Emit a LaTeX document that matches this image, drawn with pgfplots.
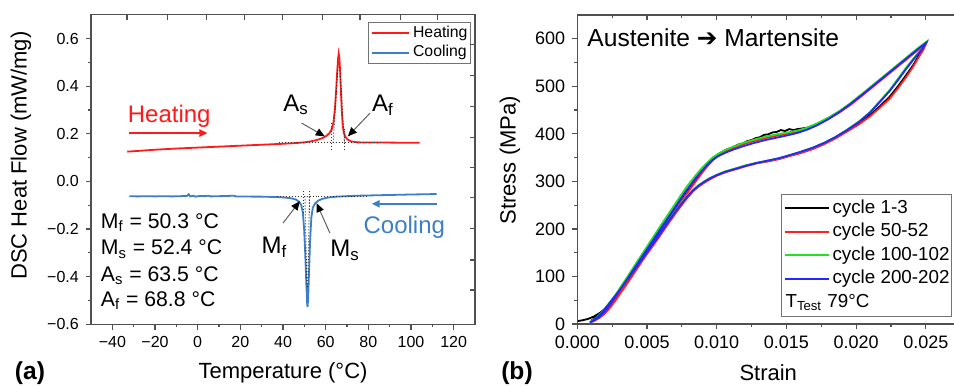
\documentclass[border=0pt]{standalone}
\usepackage{fontspec}
\setmainfont{Liberation Sans}
\newfontfamily\dejavu{DejaVu Sans}
\usepackage{pgfplots}
\pgfplotsset{compat=1.18}
\usetikzlibrary{arrows.meta}
\definecolor{heatred}{HTML}{FF1A1A}
\definecolor{coolblue}{HTML}{3D7FC6}
\definecolor{axgray}{HTML}{505050}
\definecolor{cgreen}{HTML}{22E022}
\definecolor{cblue}{HTML}{2626FF}
\definecolor{cred}{HTML}{FF2020}
\newcommand\fs[1]{\fontsize{#1bp}{#1bp}\selectfont}
\begin{document}
\begin{tikzpicture}
\useasboundingbox (0,0) rectangle (477bp,193.5bp);
\pgfplotsset{
  mystyle/.style={scale only axis, axis line style={axgray, line width=0.7bp},
    tick style={axgray, line width=0.6bp}, major tick length=2.6bp, minor tick length=1.5bp,
    /pgf/number format/assume math mode=true, scaled ticks=false},
}
% ---------------- panel (a) ----------------
\begin{axis}[mystyle, at={(45.5bp,31.35bp)}, anchor=south west, width=192bp, height=154.8bp,
  xmin=-50, xmax=130, ymin=-0.6, ymax=0.7,
  xtick={-40,-20,0,20,40,60,80,100,120},
  xticklabels={−40,−20,0,20,40,60,80,100,120},
  ytick={-0.6,-0.4,-0.2,0,0.2,0.4,0.6},
  yticklabels={−0.6,−0.4,−0.2,0.0,0.2,0.4,0.6},
  minor x tick num=1, minor y tick num=1, tick align=outside, xtick pos=left, ytick pos=left,
  ticklabel style={font=\fs{8}},
  xlabel={Temperature (°C)}, ylabel={DSC Heat Flow (mW/mg)},
  label style={font=\fs{11}},
  xlabel style={at={(rel axis cs:0.5,-0.1573)}, anchor=center},
  ylabel style={at={(rel axis cs:-0.1823,0.545)}, anchor=center},
  legend style={at={(rel axis cs:0.721,0.976)}, anchor=north west, draw=axgray!80,
    font=\fs{7.9}, inner xsep=1.5bp, inner ysep=1.5bp, row sep=2bp, column sep=1.6bp,
    nodes={inner sep=0pt, text height=6bp, text depth=1.7bp}},
  legend cell align=left,
]
\addlegendimage{legend image code/.code={\draw[heatred, line width=1bp] (0bp,0bp) -- (18.3bp,0bp);}}
\addlegendentry{Heating}
\addlegendimage{legend image code/.code={\draw[coolblue, line width=1bp] (0bp,0bp) -- (18.3bp,0bp);}}
\addlegendentry{Cooling}
\addplot[forget plot, color=heatred, line width=0.9bp] coordinates {
(-33,0.125) (-28,0.128) (-20,0.133) (-10,0.138) (0,0.142) (10,0.146) (20,0.150) (30,0.154)
(40,0.158) (46,0.161) (50,0.164) (53,0.168) (55,0.172) (57,0.177) (59,0.184) (60.5,0.192)
(61.8,0.203) (62.8,0.218) (63.6,0.245) (64.3,0.30) (64.9,0.38) (65.4,0.46) (65.8,0.515)
(66.1,0.537) (66.4,0.52) (66.8,0.46) (67.2,0.37) (67.6,0.29) (68.0,0.235) (68.5,0.205)
(69.2,0.188) (70.2,0.176) (72,0.168) (75,0.164) (80,0.163) (90,0.163) (100,0.162) (104,0.162)};
\addplot[forget plot, color=coolblue, line width=0.9bp] coordinates {
(-32,-0.062) (-28,-0.063) (-24,-0.062) (-20,-0.063) (-16,-0.062) (-12,-0.063) (-8,-0.062)
(-5,-0.061) (-4.2,-0.054) (-3.5,-0.063) (-2,-0.060) (-1,-0.064) (1,-0.061) (3,-0.062)
(5,-0.060) (6,-0.063) (10,-0.062) (14,-0.061) (17,-0.060) (18,-0.063) (22,-0.063)
(26,-0.064) (30,-0.064) (34,-0.065) (38,-0.066) (41,-0.068) (44,-0.071) (46,-0.076)
(47.5,-0.085) (48.5,-0.098) (49.3,-0.13) (49.9,-0.20) (50.4,-0.30) (50.9,-0.42) (51.3,-0.51)
(51.5,-0.528) (51.8,-0.49) (52.2,-0.38) (52.7,-0.25) (53.3,-0.15) (54,-0.11) (55,-0.093)
(56.5,-0.081) (58.5,-0.073) (61,-0.068) (65,-0.064) (70,-0.062) (75,-0.060) (80,-0.059)
(85,-0.058) (90,-0.057) (95,-0.056) (100,-0.055) (106,-0.054) (112,-0.053)};
% construction lines
\addplot[forget plot, densely dotted, black!80, line width=0.5bp] coordinates {(38,0.163) (86,0.163)};
\addplot[forget plot, densely dotted, black!80, line width=0.5bp] coordinates {(62.8,0.13) (62.8,0.25)};
\addplot[forget plot, densely dotted, black!80, line width=0.5bp] coordinates {(69,0.13) (69,0.22)};
\addplot[forget plot, densely dotted, black!80, line width=0.5bp] coordinates {(63.5,0.163) (65.7,0.48)};
\addplot[forget plot, densely dotted, black!80, line width=0.5bp] coordinates {(68.8,0.163) (66.6,0.48)};
\addplot[forget plot, densely dotted, black!80, line width=0.5bp] coordinates {(37,-0.063) (80,-0.063)};
\addplot[forget plot, densely dotted, black!80, line width=0.5bp] coordinates {(49.8,-0.04) (49.8,-0.13)};
\addplot[forget plot, densely dotted, black!80, line width=0.5bp] coordinates {(52.6,-0.04) (52.6,-0.13)};
\addplot[forget plot, densely dotted, black!80, line width=0.5bp] coordinates {(50.3,-0.063) (51.2,-0.45)};
\addplot[forget plot, densely dotted, black!80, line width=0.5bp] coordinates {(52.4,-0.063) (51.6,-0.45)};
% annotations
\draw[heatred, line width=0.9bp, -{Triangle[length=4bp,width=3.6bp]}] (axis cs:-32.1,0.203) -- (axis cs:4.6,0.203);
\draw[coolblue, line width=0.9bp, -{Triangle[length=4bp,width=3.6bp]}] (axis cs:112.2,-0.094) -- (axis cs:81.6,-0.094);
\node[anchor=base west, font=\fs{12}, text=heatred, inner sep=0pt] at (axis cs:-32.9,0.248) {Heating};
\node[anchor=base west, font=\fs{12}, text=coolblue, inner sep=0pt] at (axis cs:77.6,-0.217) {Cooling};
\draw[axgray!90, line width=0.5bp, -{Triangle[length=4.5bp,width=3.8bp,color=black]}] (axis cs:48.7,0.245) -- (axis cs:59.6,0.189);
\draw[axgray!90, line width=0.5bp, -{Triangle[length=4.5bp,width=3.8bp,color=black]}] (axis cs:80.8,0.287) -- (axis cs:70.4,0.189);
\draw[axgray!90, line width=0.5bp, -{Triangle[length=4.5bp,width=3.8bp,color=black]}] (axis cs:40,-0.175) -- (axis cs:47.9,-0.083);
\draw[axgray!90, line width=0.5bp, -{Triangle[length=4.5bp,width=3.8bp,color=black]}] (axis cs:62,-0.217) -- (axis cs:55.7,-0.091);
\node[anchor=base west, font=\fs{12}, inner sep=0pt] at (axis cs:40,0.294) {A\textsubscript{s}};
\node[anchor=base west, font=\fs{12}, inner sep=0pt] at (axis cs:81.6,0.294) {A\textsubscript{f}};
\node[anchor=base west, font=\fs{12}, inner sep=0pt] at (axis cs:29.8,-0.301) {M\textsubscript{f}};
\node[anchor=base west, font=\fs{12}, inner sep=0pt] at (axis cs:62,-0.316) {M\textsubscript{s}};
\node[anchor=base west, font=\fs{10.6}, inner sep=0pt] at (axis cs:-45.5,-0.196) {M\textsubscript{f} = 50.3 °C};
\node[anchor=base west, font=\fs{10.6}, inner sep=0pt] at (axis cs:-45.5,-0.309) {M\textsubscript{s} = 52.4 °C};
\node[anchor=base west, font=\fs{10.6}, inner sep=0pt] at (axis cs:-45.5,-0.421) {A\textsubscript{s} = 63.5 °C};
\node[anchor=base west, font=\fs{10.6}, inner sep=0pt] at (axis cs:-45.5,-0.526) {A\textsubscript{f} = 68.8 °C};
\end{axis}
% mirrored ticks of panel (a)
\begin{axis}[mystyle, at={(45.5bp,31.35bp)}, anchor=south west, width=192bp, height=154.8bp,
  xmin=-50, xmax=130, ymin=-0.6, ymax=0.7,
  xtick={-33.1,-14.3,4.1,22,39.9,58.7,76.1,94.9,112.3},
  ytick={0.575,0.444,0.314,0.184,0.057,-0.069,-0.199,-0.330,-0.456},
  xticklabels={}, yticklabels={}, tick align=inside, xtick pos=right, ytick pos=right]
\end{axis}
% ---------------- panel (b) ----------------
\begin{axis}[mystyle, at={(288.65bp,31.5bp)}, anchor=south west, width=191.7bp, height=154.5bp,
  xmin=0, xmax=0.0275, ymin=0, ymax=650,
  xtick={0,0.005,0.01,0.015,0.02,0.025},
  xticklabels={0.000,0.005,0.010,0.015,0.020,0.025},
  ytick={0,100,200,300,400,500,600},
  minor x tick num=1, minor y tick num=1, tick align=outside, xtick pos=left, ytick pos=left,
  ticklabel style={font=\fs{9}},
  xlabel={Strain}, ylabel={Stress (MPa)},
  label style={font=\fs{11}},
  xlabel style={at={(rel axis cs:0.498,-0.1586)}, anchor=center},
  ylabel style={at={(rel axis cs:-0.1755,0.53)}, anchor=center},
  legend style={at={(rel axis cs:0.5316,0.4207)}, anchor=north west, draw=axgray!80,
    font=\fs{9.4}, inner xsep=1bp, inner ysep=2.6bp, row sep=2.95bp, column sep=1.5bp,
    nodes={inner sep=0pt, text height=6.8bp, text depth=2bp}},
  legend cell align=left,
]
\addlegendimage{legend image code/.code={\draw[black, line width=1bp] (0bp,0bp) -- (22bp,0bp);}}
\addlegendentry{cycle 1-3}
\addlegendimage{legend image code/.code={\draw[cred, line width=1bp] (0bp,0bp) -- (22bp,0bp);}}
\addlegendentry{cycle 50-52}
\addlegendimage{legend image code/.code={\draw[cgreen, line width=1bp] (0bp,0bp) -- (22bp,0bp);}}
\addlegendentry{cycle 100-102}
\addlegendimage{legend image code/.code={\draw[cblue, line width=1bp] (0bp,0bp) -- (22bp,0bp);}}
\addlegendentry{cycle 200-202}
\addlegendimage{empty legend}
\addlegendentry{\hspace*{-23.5bp}T\textsubscript{Test} 79°C}
\addplot[forget plot, black, line width=0.9bp] coordinates {
(0,6) (0.0004,8) (0.0008,11) (0.0012,16) (0.0016,23) (0.0020,32) (0.0024,44) (0.0027,56)
(0.0030,69) (0.0035,91) (0.0040,113) (0.0050,157) (0.0060,201) (0.0070,244) (0.0078,278)
(0.0085,305) (0.0089,320) (0.0093,334) (0.0097,347) (0.0101,357) (0.0104,362) (0.0107,367)
(0.0110,370) (0.0113,374) (0.0116,378) (0.0119,380) (0.0122,385) (0.0125,387) (0.0128,391)
(0.0131,393) (0.0134,398) (0.0137,399) (0.0140,403) (0.0143,404) (0.0146,408) (0.0149,406)
(0.0152,410) (0.0155,408) (0.0158,410) (0.0165,413) (0.0172,421) (0.0180,433) (0.0188,447)
(0.0196,463) (0.0205,484) (0.0215,508) (0.0225,532) (0.0235,556) (0.0245,580) (0.0250,590)
(0.0248,578) (0.0245,565) (0.0241,545) (0.0236,524) (0.0230,500) (0.0224,478) (0.0217,458)
(0.0210,440) (0.0202,423) (0.0193,406) (0.0185,392) (0.0177,380) (0.0169,370) (0.0160,361)
(0.0152,354) (0.0145,348) (0.0137,343) (0.0129,339) (0.0121,333) (0.0113,326) (0.0106,320)
(0.0100,313) (0.0095,306) (0.0091,299) (0.0087,291) (0.0083,281) (0.0078,265) (0.0072,243)
(0.0065,214) (0.0058,184) (0.0050,151) (0.0043,122) (0.0036,94) (0.0030,70) (0.0025,51)
(0.0021,36) (0.0017,23) (0.0013,13) (0.0010,7)};
\addplot[forget plot, cred, line width=0.9bp] coordinates {
(0.0010,4) (0.0013,8) (0.0016,13) (0.0019,20) (0.0022,29) (0.0025,40) (0.0028,52) (0.0031,65)
(0.0036,86) (0.0041,108) (0.0050,148) (0.0060,193) (0.0070,237) (0.0078,272) (0.0085,300)
(0.0089,316) (0.0093,331) (0.0097,344) (0.0101,354) (0.0106,362) (0.0112,370) (0.0119,378)
(0.0127,385) (0.0135,391) (0.0143,396) (0.0151,400) (0.0158,404) (0.0165,410) (0.0172,419)
(0.0180,431) (0.0188,445) (0.0196,461) (0.0205,482) (0.0215,506) (0.0225,530) (0.0235,554)
(0.0245,578) (0.0250,589)
(0.0248,576) (0.0245,562) (0.0241,542) (0.0236,520) (0.0230,496) (0.0224,474) (0.0217,455)
(0.0210,437) (0.0202,420) (0.0193,404) (0.0185,390) (0.0177,378) (0.0169,368) (0.0160,359)
(0.0152,353) (0.0145,347) (0.0137,342) (0.0129,338) (0.0121,332) (0.0113,325) (0.0106,319)
(0.0100,312) (0.0095,304) (0.0091,297) (0.0087,289) (0.0083,279) (0.0078,262) (0.0072,239)
(0.0065,210) (0.0058,180) (0.0050,147) (0.0043,118) (0.0036,90) (0.0030,66) (0.0025,47)
(0.0021,32) (0.0017,19) (0.0013,10) (0.0010,5)};
\addplot[forget plot, cgreen, line width=0.9bp] coordinates {
(0.0009,4) (0.0012,8) (0.0015,14) (0.0018,22) (0.0021,33) (0.0024,46) (0.0027,59) (0.0030,73)
(0.0035,95) (0.0040,118) (0.0050,163) (0.0060,208) (0.0070,252) (0.0078,287) (0.0085,313)
(0.0089,327) (0.0093,339) (0.0097,350) (0.0101,358) (0.0106,366) (0.0112,373) (0.0119,381)
(0.0127,388) (0.0135,394) (0.0143,399) (0.0151,403) (0.0158,407) (0.0165,413) (0.0172,422)
(0.0180,434) (0.0188,448) (0.0196,465) (0.0205,486) (0.0215,510) (0.0225,534) (0.0235,558)
(0.0245,582) (0.0250,593)
(0.0248,583) (0.0245,572) (0.0241,558) (0.0236,540) (0.0230,516) (0.0224,492) (0.0217,469)
(0.0210,446) (0.0202,426) (0.0193,408) (0.0185,393) (0.0177,381) (0.0169,371) (0.0160,362)
(0.0152,355) (0.0145,349) (0.0137,344) (0.0129,339) (0.0121,334) (0.0113,327) (0.0106,321)
(0.0100,314) (0.0095,307) (0.0091,300) (0.0087,292) (0.0083,282) (0.0078,267) (0.0072,244)
(0.0065,215) (0.0058,185) (0.0050,152) (0.0043,123) (0.0036,95) (0.0030,71) (0.0025,52)
(0.0021,37) (0.0017,23) (0.0013,12) (0.0010,6)};
\addplot[forget plot, cblue, line width=0.9bp] coordinates {
(0.0009,3) (0.0012,7) (0.0015,13) (0.0018,21) (0.0021,31) (0.0024,43) (0.0027,56) (0.0030,69)
(0.0035,91) (0.0040,113) (0.0050,157) (0.0060,201) (0.0070,245) (0.0078,280) (0.0085,307)
(0.0089,321) (0.0093,334) (0.0097,345) (0.0101,353) (0.0106,360) (0.0112,367) (0.0119,374)
(0.0127,381) (0.0135,387) (0.0143,392) (0.0151,397) (0.0158,402) (0.0165,409) (0.0172,418)
(0.0180,431) (0.0188,446) (0.0196,463) (0.0205,484) (0.0215,508) (0.0225,532) (0.0235,556)
(0.0245,580) (0.0250,591)
(0.0248,581) (0.0245,570) (0.0241,556) (0.0236,537) (0.0230,513) (0.0224,490) (0.0217,467)
(0.0210,445) (0.0202,425) (0.0193,407) (0.0185,393) (0.0177,381) (0.0169,371) (0.0160,362)
(0.0152,355) (0.0145,349) (0.0137,344) (0.0129,339) (0.0121,333) (0.0113,326) (0.0106,320)
(0.0100,313) (0.0095,306) (0.0091,299) (0.0087,291) (0.0083,281) (0.0078,265) (0.0072,243)
(0.0065,214) (0.0058,184) (0.0050,151) (0.0043,122) (0.0036,94) (0.0030,70) (0.0025,51)
(0.0021,36) (0.0017,22) (0.0013,11) (0.0010,5) (0.0009,3)};
\node[anchor=base west, font=\fs{12.3}, inner sep=0pt] at (axis cs:0.0007,584) {Austenite {\dejavu ➔} Martensite};
\end{axis}
% mirrored ticks of panel (b)
\begin{axis}[mystyle, at={(288.65bp,31.5bp)}, anchor=south west, width=191.7bp, height=154.5bp,
  xmin=0, xmax=0.0275, ymin=0, ymax=650,
  xtick={0,0.005,0.01,0.015,0.02,0.025}, ytick={0,100,200,300,400,500,600},
  minor x tick num=1, minor y tick num=1,
  xticklabels={}, yticklabels={}, tick align=inside, xtick pos=right, ytick pos=right]
\end{axis}
\node[font=\bfseries\fs{12.3}] at (15bp,7bp) {(a)};
\node[font=\bfseries\fs{12.3}] at (258.5bp,7bp) {(b)};
\end{tikzpicture}
\end{document}
